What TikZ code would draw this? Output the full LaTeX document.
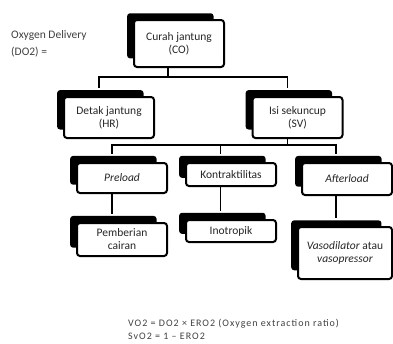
\documentclass[tikz,border=0pt]{standalone}
\usepackage{fontspec}
\setmainfont{Carlito}
\usetikzlibrary{shadows}

\tikzset{
  box/.style={draw, line width=2pt, rounded corners=3pt, fill=white, align=center,
    inner sep=1pt, minimum width=90pt, text=black!85, font=\fontsize{11.5}{13}\selectfont,
    general shadow={fill=black, shadow xshift=-9pt, shadow yshift=8pt, shadow scale=0.96}},
  link/.style={line width=1.6pt},
  note/.style={align=left, inner sep=0pt, text=black!75}
}

\begin{document}
\begin{tikzpicture}[x=1pt, y=-1pt]
\useasboundingbox (0,0) rectangle (393,343);

\node[note, anchor=west, font=\fontsize{11.5}{17}\selectfont] (do2) at (11,43.5) {Oxygen Delivery\\(DO2) =};

\node[box, minimum height=47pt] (co) at (179,43.5) {Curah jantung\\(CO)};
\node[box, minimum height=41pt] (hr) at (109,117.5) {Detak jantung\\(HR)};
\node[box, minimum height=41pt] (sv) at (297.5,117.5) {Isi sekuncup\\(SV)};

\node[box, minimum height=30pt] (pre) at (122,178) {\textit{Preload}};
\node[box, minimum height=23pt] (kon) at (231,174.5) {Kontraktilitas};
\node[box, minimum height=32pt] (aft) at (347,179) {\textit{Afterload}};

\node[box, minimum height=33pt] (cair) at (122,239.5) {Pemberian\\cairan};
\node[box, minimum height=22pt] (ino) at (231,231) {Inotropik};
\node[box, minimum height=52pt, minimum width=94pt] (vaso) at (345,253) {\textit{Vasodilator} atau\\\textit{vasopressor}};

% cabang
\draw[link] ([xshift=-11pt]co.south) -- ++(0,9) -| ([xshift=-10pt,yshift=8pt]hr.north);
\draw[link] ([xshift=-11pt]co.south) -- ++(0,9) -| ([xshift=-10pt,yshift=8pt]sv.north);
\draw[link] ([xshift=-10pt]sv.south) -- ++(0,6) -| ([xshift=-10pt,yshift=8pt]pre.north);
\draw[link] ([xshift=-10pt]sv.south) -- ++(0,6) -| ([xshift=-10.5pt,yshift=8pt]kon.north);
\draw[link] ([xshift=-10pt]sv.south) -- ++(0,6) -| ([xshift=-11pt,yshift=8pt]aft.north);
\draw[link] ([xshift=-10pt]pre.south) -- ([xshift=-10pt,yshift=8pt]cair.north);
\draw[link] ([xshift=-10.5pt]kon.south) -- ([xshift=-10.5pt,yshift=8pt]ino.north);
\draw[link] ([xshift=-11pt]aft.south) -- ([xshift=-9pt,yshift=8pt]vaso.north);

\node[note, anchor=west, font=\fontsize{10}{13}\selectfont\addfontfeature{LetterSpace=10}] (rumus) at (128,329.5)
  {VO2 = DO2 × ERO2 (Oxygen extraction ratio)\\SvO2 = 1 \textendash{} ERO2};
\end{tikzpicture}
\end{document}
